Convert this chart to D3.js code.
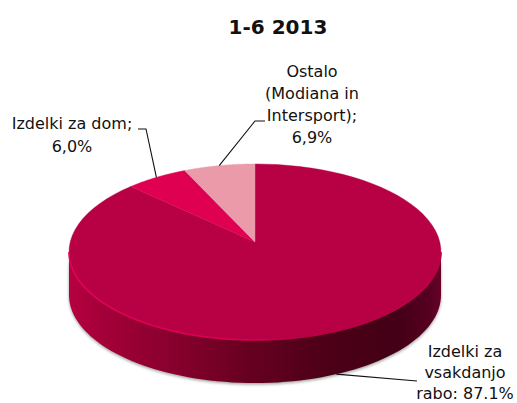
<!DOCTYPE html>
<html><head><meta charset="utf-8">
<style>html,body{margin:0;padding:0;background:#fff}svg{display:block}text{font-family:"DejaVu Sans",sans-serif;fill:#111}</style>
<script src="https://cdn.jsdelivr.net/npm/d3@7"></script></head><body>
<script>
const title = "1-6 2013";
const categories = ["Izdelki za vsakdanjo rabo", "Izdelki za dom", "Ostalo (Modiana in Intersport)"];
const values = [87.1, 6.0, 6.9];
const colors = ["#b80045", "#e00052", "#ea9aa8"];
const labelLines = [["Izdelki za","vsakdanjo","rabo: 87.1%"],["Izdelki za dom;","6,0%"],["Ostalo","(Modiana in","Intersport);","6,9%"]];

const W=517,H=403,cx=255,cy=242,K=184.8,kY=86.9,p=0.1136,depth=43;
const svg=d3.select("body").append("svg").attr("width",W).attr("height",H);
const proj=a=>{const u=Math.sin(a),v=-Math.cos(a),d=1-p*v;return [cx+K*u/d,cy+kY*v/d];};
const arcs=d3.pie().sort(null).value(d=>d)(values);
const arcPts=(a0,a1)=>d3.range(0,81).map(i=>proj(a0+(a1-a0)*i/80));
const line=d3.line();
const defs=svg.append("defs");
const g=defs.append("linearGradient").attr("id","wall").attr("gradientUnits","userSpaceOnUse").attr("x1",69).attr("x2",441).attr("y1",0).attr("y2",0);
[[0,"#b5003f"],[.1,"#a20038"],[.3,"#85002c"],[.5,"#640020"],[.7,"#4c0018"],[.88,"#430016"],[.97,"#560020"],[1,"#6a0028"]].forEach(s=>g.append("stop").attr("offset",s[0]).attr("stop-color",s[1]));
const rim=defs.append("linearGradient").attr("id","rim").attr("gradientUnits","userSpaceOnUse").attr("x1",69).attr("x2",441).attr("y1",0).attr("y2",0);
[[0,"#e6005a"],[.45,"#d8004f"],[.6,"#b80045"],[1,"#b80045"]].forEach(s=>rim.append("stop").attr("offset",s[0]).attr("stop-color",s[1]));
defs.append("filter").attr("id","blur").attr("x","-10%").attr("y","-10%").attr("width","120%").attr("height","120%").append("feGaussianBlur").attr("stdDeviation",1.4);

// front wall: lower half of the outline, extruded downward
const leftA=Math.PI*2-Math.acos(-p)+0, rightA=Math.acos(-p);
const front=arcPts(rightA,leftA);
const wallPts=front.concat(front.slice().reverse().map(q=>[q[0],q[1]+depth]));
svg.append("path").attr("d",line(wallPts)+"Z").attr("fill","#555").attr("opacity",.55).attr("filter","url(#blur)").attr("transform","translate(0,1.5)");
svg.append("path").attr("d",line(wallPts)+"Z").attr("fill","url(#wall)");

// top surface
svg.selectAll("path.slice").data(arcs).join("path").attr("class","slice")
  .attr("d",d=>line([[cx,cy]].concat(arcPts(d.startAngle,d.endAngle)))+"Z")
  .attr("fill",(d,i)=>colors[i]).attr("stroke",(d,i)=>colors[i]).attr("stroke-width",.4);
svg.append("path").attr("d",line(front)).attr("fill","none").attr("stroke","url(#rim)").attr("stroke-width",1.6);

// leader lines, anchored at each slice's mid-angle
const mid=d=>proj((d.startAngle+d.endAngle)/2);
const leaderElbows=[[[417,381],null,0],[[138,129],[146,129],1],[[265,121],[255,121],2]];
leaderElbows.forEach(([a,b,i])=>{
  const m=mid(arcs[i]);const end=i===0?[m[0],m[1]+depth]:m;
  const pts=b?[a,b,end]:[a,end];
  svg.append("path").attr("d",line(pts)).attr("fill","none").attr("stroke","#111").attr("stroke-width",1.1);
});

// text
svg.append("text").attr("x",278).attr("y",34).attr("text-anchor","middle").attr("font-weight","bold").attr("font-size",20).text(title);
const labelPos=[[465,357,21],[72,129,23],[312,77,22]];
labelLines.forEach((ls,i)=>{
  const t=svg.append("text").attr("text-anchor","middle").attr("font-size",16);
  ls.forEach((s,j)=>t.append("tspan").attr("x",labelPos[i][0]).attr("y",labelPos[i][1]+j*labelPos[i][2]).text(s));
});
</script></body></html>
